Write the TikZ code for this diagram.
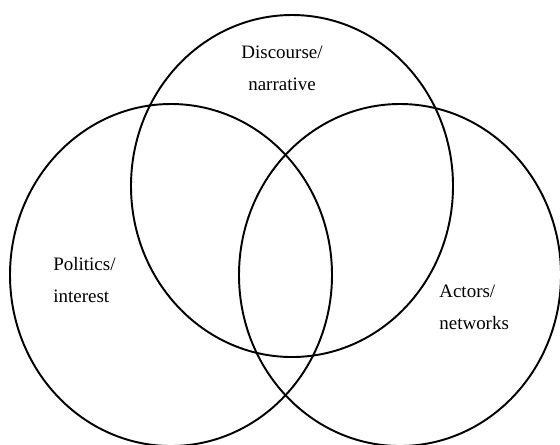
\documentclass[tikz,border=0pt]{standalone}
\usepackage{fontspec}
\setmainfont{Liberation Serif}

\newcommand{\pxscl}{0.02}
\newcommand{\setrx}{161}
\newcommand{\setry}{171}
\newcommand{\vset}{\draw[line width=1.1pt]}
\newcommand{\lbl}{\node[inner sep=0pt, font=\fontsize{10.8pt}{18.1pt}\selectfont]}

\begin{document}
\begin{tikzpicture}[x=\pxscl cm, y=-\pxscl cm]
            \useasboundingbox (0,0) rectangle (560,444);

            % the three sets
            \vset (292,186) ellipse [x radius=\setrx, y radius=\setry];
            \vset (171,275) ellipse [x radius=\setrx, y radius=\setry];
            \vset (400,275) ellipse [x radius=\setrx, y radius=\setry];

            % base anchor sits on the last line
            \lbl[align=center, anchor=base] (discourse) at (282,90) {Discourse/\\narrative};
            \lbl[align=left, anchor=base west] (politics) at (53,302) {Politics/\\interest};
            \lbl[align=left, anchor=base west] (actors) at (439,329) {Actors/\\networks};
        \end{tikzpicture}
\end{document}
